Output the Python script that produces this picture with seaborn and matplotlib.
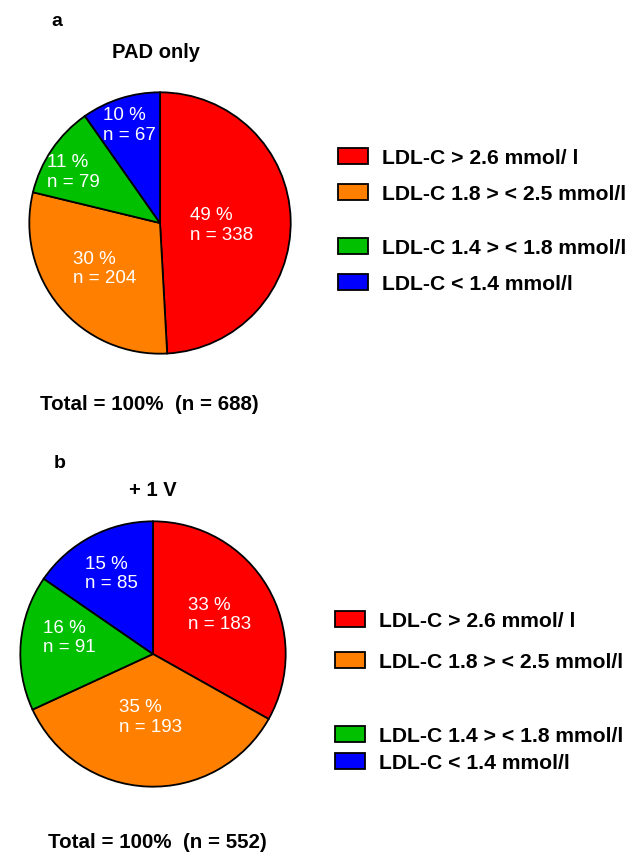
import numpy as np
import seaborn as sns
import matplotlib.pyplot as plt

categories = ['LDL-C > 2.6 mmol/ l', 'LDL-C 1.8 > < 2.5 mmol/l',
              'LDL-C 1.4 > < 1.8 mmol/l', 'LDL-C < 1.4 mmol/l']
colors = ['#ff0000', '#ff8000', '#00c000', '#0000ff']

n_pad = [338, 204, 79, 67]
pct_pad = [49, 30, 11, 10]
n_1v = [183, 193, 91, 85]
pct_1v = [33, 35, 16, 15]

sns.set_theme(style="white")
plt.rcParams['font.family'] = ['Liberation Sans', 'DejaVu Sans']
plt.rcParams['text.color'] = 'black'

W, H = 628, 852
fig = plt.figure(figsize=(W / 100, H / 100), dpi=100)
fig.patch.set_facecolor('white')


def px_axes(cx, cy, r):
    return fig.add_axes([(cx - r) / W, (H - cy - r) / H, 2 * r / W, 2 * r / H])


def draw_pie(ax, counts, pcts, spots):
    # spots: (radial distance, angle shift in degrees) for each label
    wedges, _ = ax.pie(counts, colors=colors, startangle=90, counterclock=False,
                       wedgeprops=dict(edgecolor='black', linewidth=1.3))
    for w, p, n, (d, shift) in zip(wedges, pcts, counts, spots):
        ang = np.deg2rad((w.theta1 + w.theta2) / 2 + shift)
        ax.text(d * np.cos(ang), d * np.sin(ang), f'{p} %\nn = {n}',
                ha='center', va='center', multialignment='left',
                color='white', fontsize=13.5, linespacing=1.2)
    ax.set_xlim(-1.01, 1.01)
    ax.set_ylim(-1.01, 1.01)
    ax.set_aspect('equal')
    ax.axis('off')
    return wedges


def draw_legend(wedges, x, rows):
    for w, lab, y in zip(wedges, categories, rows):
        fig.legend([w], [lab], loc='center left',
                   bbox_to_anchor=(x / W, 1 - y / H), frameon=False,
                   handlelength=1.4, handleheight=0.74,
                   handletextpad=0.7, borderpad=0, borderaxespad=0,
                   prop=dict(weight='bold', size=15.2))


# panel a
ax_a = px_axes(160, 223, 132)
wa = draw_pie(ax_a, n_pad, pct_pad, [(0.47, -4), (0.55, 0), (0.77, 4), (0.78, 0)])
draw_legend(wa, 338, [158, 194, 248, 284])
fig.text(57 / W, 1 - 22 / H, 'a', ha='center', va='center', fontsize=14, weight='bold')
fig.text(156 / W, 1 - 53 / H, 'PAD only', ha='center', va='center', fontsize=14.5, weight='bold')
fig.text(149 / W, 1 - 405 / H, 'Total = 100%  (n = 688)', ha='center', va='center',
         fontsize=14.8, weight='bold')

# panel b
ax_b = px_axes(153, 654, 134)
wb = draw_pie(ax_b, n_1v, pct_1v, [(0.58, 0), (0.48, 0), (0.645, -6), (0.68, 0)])
draw_legend(wb, 335, [621, 662, 736, 763])
fig.text(60 / W, 1 - 463 / H, 'b', ha='center', va='center', fontsize=14, weight='bold')
fig.text(153 / W, 1 - 490 / H, '+ 1 V', ha='center', va='center', fontsize=14.5, weight='bold')
fig.text(157 / W, 1 - 843 / H, 'Total = 100%  (n = 552)', ha='center', va='center',
         fontsize=14.8, weight='bold')

fig.savefig('out.png', dpi=100, facecolor='white')
